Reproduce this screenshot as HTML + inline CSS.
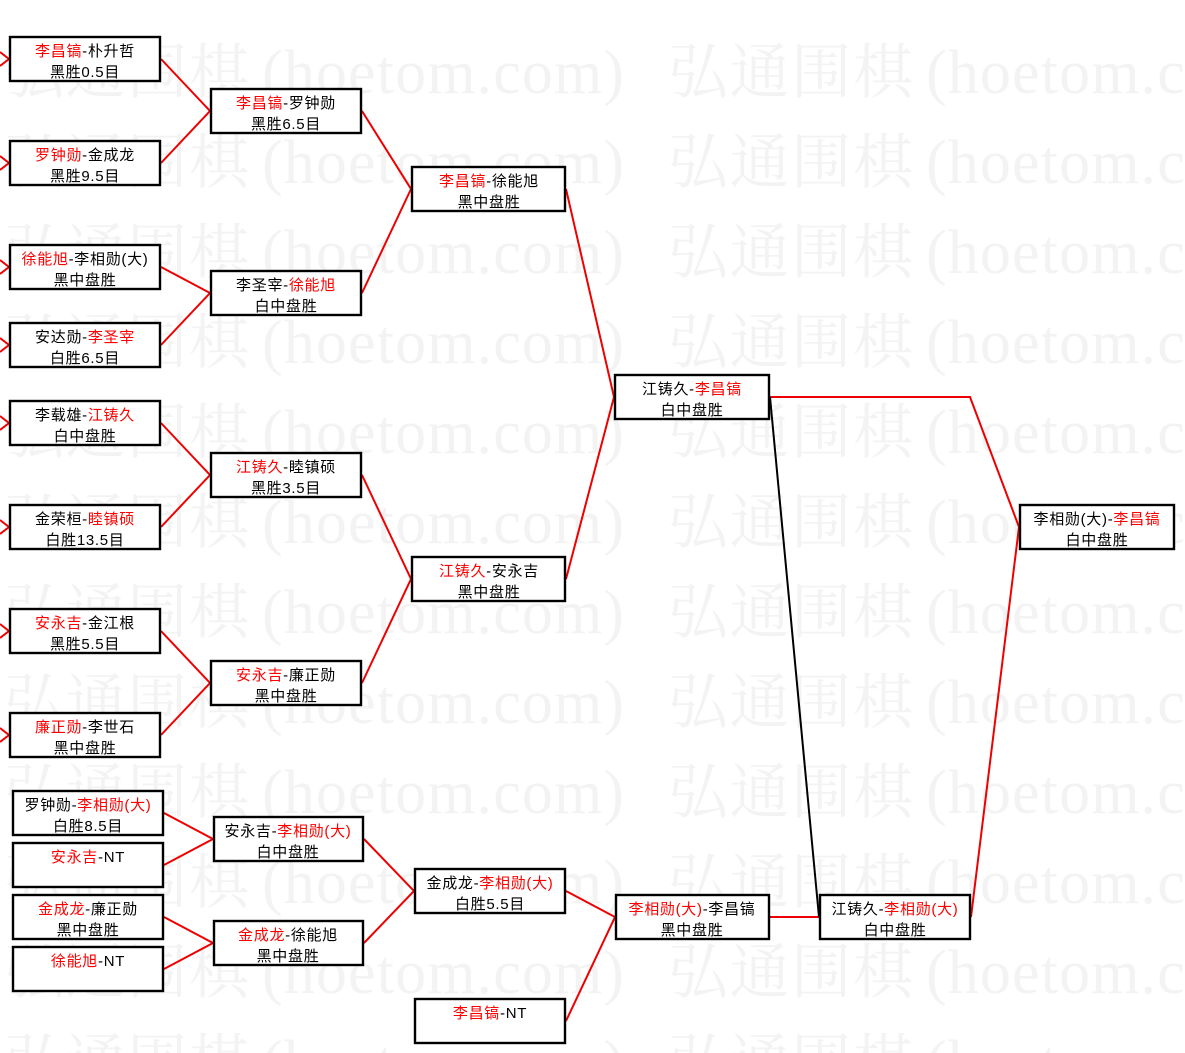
<!DOCTYPE html>
<html>
<head>
<meta charset="utf-8">
<style>
  html,body{margin:0;padding:0;background:#fff;}
  body{width:1185px;height:1053px;overflow:hidden;}
  svg{display:block;}
  .wm{font-family:"Noto Serif CJK SC","Liberation Serif",serif;font-size:60px;fill:#f3f3f3;}
  .wl{font-family:"Liberation Serif","Noto Serif CJK SC",serif;font-size:62px;fill:#f3f3f3;}
  .t{font-family:"Liberation Sans","Noto Sans CJK SC",sans-serif;font-size:15px;fill:#000;letter-spacing:0.7px;}
  .r{fill:#ff0000;}
  .bx{fill:#fff;stroke:#000;stroke-width:2.4;}
  .ln{stroke:#ee0000;stroke-width:2;fill:none;}
</style>
</head>
<body>
<svg width="1185" height="1053" viewBox="0 0 1185 1053" xmlns="http://www.w3.org/2000/svg">
  <rect x="0" y="0" width="1185" height="1053" fill="#fff"/>
  <g id="wm">
    <g>
      <text class="wm" x="4" y="93" textLength="245" lengthAdjust="spacing">弘通围棋</text><text class="wl" x="262" y="93" textLength="362" lengthAdjust="spacing">(hoetom.com)</text>
      <text class="wm" x="668" y="93" textLength="245" lengthAdjust="spacing">弘通围棋</text><text class="wl" x="926" y="93" textLength="362" lengthAdjust="spacing">(hoetom.com)</text>
    </g>
    <g transform="translate(0,90)">
      <text class="wm" x="4" y="93" textLength="245" lengthAdjust="spacing">弘通围棋</text><text class="wl" x="262" y="93" textLength="362" lengthAdjust="spacing">(hoetom.com)</text>
      <text class="wm" x="668" y="93" textLength="245" lengthAdjust="spacing">弘通围棋</text><text class="wl" x="926" y="93" textLength="362" lengthAdjust="spacing">(hoetom.com)</text>
    </g>
    <g transform="translate(0,180)">
      <text class="wm" x="4" y="93" textLength="245" lengthAdjust="spacing">弘通围棋</text><text class="wl" x="262" y="93" textLength="362" lengthAdjust="spacing">(hoetom.com)</text>
      <text class="wm" x="668" y="93" textLength="245" lengthAdjust="spacing">弘通围棋</text><text class="wl" x="926" y="93" textLength="362" lengthAdjust="spacing">(hoetom.com)</text>
    </g>
    <g transform="translate(0,270)">
      <text class="wm" x="4" y="93" textLength="245" lengthAdjust="spacing">弘通围棋</text><text class="wl" x="262" y="93" textLength="362" lengthAdjust="spacing">(hoetom.com)</text>
      <text class="wm" x="668" y="93" textLength="245" lengthAdjust="spacing">弘通围棋</text><text class="wl" x="926" y="93" textLength="362" lengthAdjust="spacing">(hoetom.com)</text>
    </g>
    <g transform="translate(0,360)">
      <text class="wm" x="4" y="93" textLength="245" lengthAdjust="spacing">弘通围棋</text><text class="wl" x="262" y="93" textLength="362" lengthAdjust="spacing">(hoetom.com)</text>
      <text class="wm" x="668" y="93" textLength="245" lengthAdjust="spacing">弘通围棋</text><text class="wl" x="926" y="93" textLength="362" lengthAdjust="spacing">(hoetom.com)</text>
    </g>
    <g transform="translate(0,450)">
      <text class="wm" x="4" y="93" textLength="245" lengthAdjust="spacing">弘通围棋</text><text class="wl" x="262" y="93" textLength="362" lengthAdjust="spacing">(hoetom.com)</text>
      <text class="wm" x="668" y="93" textLength="245" lengthAdjust="spacing">弘通围棋</text><text class="wl" x="926" y="93" textLength="362" lengthAdjust="spacing">(hoetom.com)</text>
    </g>
    <g transform="translate(0,540)">
      <text class="wm" x="4" y="93" textLength="245" lengthAdjust="spacing">弘通围棋</text><text class="wl" x="262" y="93" textLength="362" lengthAdjust="spacing">(hoetom.com)</text>
      <text class="wm" x="668" y="93" textLength="245" lengthAdjust="spacing">弘通围棋</text><text class="wl" x="926" y="93" textLength="362" lengthAdjust="spacing">(hoetom.com)</text>
    </g>
    <g transform="translate(0,630)">
      <text class="wm" x="4" y="93" textLength="245" lengthAdjust="spacing">弘通围棋</text><text class="wl" x="262" y="93" textLength="362" lengthAdjust="spacing">(hoetom.com)</text>
      <text class="wm" x="668" y="93" textLength="245" lengthAdjust="spacing">弘通围棋</text><text class="wl" x="926" y="93" textLength="362" lengthAdjust="spacing">(hoetom.com)</text>
    </g>
    <g transform="translate(0,720)">
      <text class="wm" x="4" y="93" textLength="245" lengthAdjust="spacing">弘通围棋</text><text class="wl" x="262" y="93" textLength="362" lengthAdjust="spacing">(hoetom.com)</text>
      <text class="wm" x="668" y="93" textLength="245" lengthAdjust="spacing">弘通围棋</text><text class="wl" x="926" y="93" textLength="362" lengthAdjust="spacing">(hoetom.com)</text>
    </g>
    <g transform="translate(0,810)">
      <text class="wm" x="4" y="93" textLength="245" lengthAdjust="spacing">弘通围棋</text><text class="wl" x="262" y="93" textLength="362" lengthAdjust="spacing">(hoetom.com)</text>
      <text class="wm" x="668" y="93" textLength="245" lengthAdjust="spacing">弘通围棋</text><text class="wl" x="926" y="93" textLength="362" lengthAdjust="spacing">(hoetom.com)</text>
    </g>
    <g transform="translate(0,900)">
      <text class="wm" x="4" y="93" textLength="245" lengthAdjust="spacing">弘通围棋</text><text class="wl" x="262" y="93" textLength="362" lengthAdjust="spacing">(hoetom.com)</text>
      <text class="wm" x="668" y="93" textLength="245" lengthAdjust="spacing">弘通围棋</text><text class="wl" x="926" y="93" textLength="362" lengthAdjust="spacing">(hoetom.com)</text>
    </g>
    <g transform="translate(0,990)">
      <text class="wm" x="4" y="93" textLength="245" lengthAdjust="spacing">弘通围棋</text><text class="wl" x="262" y="93" textLength="362" lengthAdjust="spacing">(hoetom.com)</text>
      <text class="wm" x="668" y="93" textLength="245" lengthAdjust="spacing">弘通围棋</text><text class="wl" x="926" y="93" textLength="362" lengthAdjust="spacing">(hoetom.com)</text>
    </g>
  </g>

  <g class="ln">
    <polyline points="0,52 9,59 0,66"/>
    <polyline points="0,156 9,163 0,170"/>
    <polyline points="0,260 9,267 0,274"/>
    <polyline points="0,338 9,345 0,352"/>
    <polyline points="0,416 9,423 0,430"/>
    <polyline points="0,520 9,527 0,534"/>
    <polyline points="0,624 9,631 0,638"/>
    <polyline points="0,728 9,735 0,742"/>
    <polyline points="161,59 210,111 161,163"/>
    <polyline points="161,267 210,293 161,345"/>
    <polyline points="161,423 210,475 161,527"/>
    <polyline points="161,631 210,683 161,735"/>
    <polyline points="362,111 411,189 362,293"/>
    <polyline points="362,475 411,579 362,683"/>
    <polyline points="566,189 614,397 566,579"/>
    <polyline points="770,397 970,397 1019,527 971,917"/>
    <polyline points="164,813 213,839 164,865"/>
    <polyline points="164,917 213,943 164,969"/>
    <polyline points="364,839 414,891 364,943"/>
    <polyline points="566,891 615,917 566,1021"/>
    <line x1="770" y1="917" x2="819" y2="917"/>
  </g>
  <line x1="770" y1="397" x2="819" y2="917" stroke="#000" stroke-width="2"/>

  <g>
    <rect class="bx" x="10" y="37" width="150" height="44"/>
    <rect class="bx" x="10" y="141" width="150" height="44"/>
    <rect class="bx" x="10" y="245" width="150" height="44"/>
    <rect class="bx" x="10" y="323" width="150" height="44"/>
    <rect class="bx" x="10" y="401" width="150" height="44"/>
    <rect class="bx" x="10" y="505" width="150" height="44"/>
    <rect class="bx" x="10" y="609" width="150" height="44"/>
    <rect class="bx" x="10" y="713" width="150" height="44"/>

    <rect class="bx" x="211" y="89" width="150" height="44"/>
    <rect class="bx" x="211" y="271" width="150" height="44"/>
    <rect class="bx" x="211" y="453" width="150" height="44"/>
    <rect class="bx" x="211" y="661" width="150" height="44"/>

    <rect class="bx" x="412" y="167" width="153" height="44"/>
    <rect class="bx" x="412" y="557" width="153" height="44"/>

    <rect class="bx" x="615" y="375" width="154" height="44"/>
    <rect class="bx" x="1020" y="505" width="154" height="44"/>

    <rect class="bx" x="13" y="791" width="150" height="44"/>
    <rect class="bx" x="13" y="843" width="150" height="44"/>
    <rect class="bx" x="13" y="895" width="150" height="44"/>
    <rect class="bx" x="13" y="947" width="150" height="44"/>

    <rect class="bx" x="214" y="817" width="149" height="44"/>
    <rect class="bx" x="214" y="921" width="149" height="44"/>

    <rect class="bx" x="415" y="869" width="150" height="44"/>
    <rect class="bx" x="415" y="999" width="150" height="44"/>

    <rect class="bx" x="616" y="895" width="153" height="44"/>
    <rect class="bx" x="820" y="895" width="150" height="44"/>
  </g>

  <g class="t" text-anchor="middle">
    <text x="85" y="56"><tspan class="r">李昌镐</tspan>-朴升哲</text>
    <text x="85" y="77">黑胜0.5目</text>
    <text x="85" y="160"><tspan class="r">罗钟勋</tspan>-金成龙</text>
    <text x="85" y="181">黑胜9.5目</text>
    <text x="85" y="264"><tspan class="r">徐能旭</tspan>-李相勋(大)</text>
    <text x="85" y="285">黑中盘胜</text>
    <text x="85" y="342">安达勋-<tspan class="r">李圣宰</tspan></text>
    <text x="85" y="363">白胜6.5目</text>
    <text x="85" y="420">李载雄-<tspan class="r">江铸久</tspan></text>
    <text x="85" y="441">白中盘胜</text>
    <text x="85" y="524">金荣桓-<tspan class="r">睦镇硕</tspan></text>
    <text x="85" y="545">白胜13.5目</text>
    <text x="85" y="628"><tspan class="r">安永吉</tspan>-金江根</text>
    <text x="85" y="649">黑胜5.5目</text>
    <text x="85" y="732"><tspan class="r">廉正勋</tspan>-李世石</text>
    <text x="85" y="753">黑中盘胜</text>

    <text x="286" y="108"><tspan class="r">李昌镐</tspan>-罗钟勋</text>
    <text x="286" y="129">黑胜6.5目</text>
    <text x="286" y="290">李圣宰-<tspan class="r">徐能旭</tspan></text>
    <text x="286" y="311">白中盘胜</text>
    <text x="286" y="472"><tspan class="r">江铸久</tspan>-睦镇硕</text>
    <text x="286" y="493">黑胜3.5目</text>
    <text x="286" y="680"><tspan class="r">安永吉</tspan>-廉正勋</text>
    <text x="286" y="701">黑中盘胜</text>

    <text x="489" y="186"><tspan class="r">李昌镐</tspan>-徐能旭</text>
    <text x="489" y="207">黑中盘胜</text>
    <text x="489" y="576"><tspan class="r">江铸久</tspan>-安永吉</text>
    <text x="489" y="597">黑中盘胜</text>

    <text x="692" y="394">江铸久-<tspan class="r">李昌镐</tspan></text>
    <text x="692" y="415">白中盘胜</text>

    <text x="1097" y="524">李相勋(大)-<tspan class="r">李昌镐</tspan></text>
    <text x="1097" y="545">白中盘胜</text>

    <text x="88" y="810">罗钟勋-<tspan class="r">李相勋(大)</tspan></text>
    <text x="88" y="831">白胜8.5目</text>
    <text x="88" y="862"><tspan class="r">安永吉</tspan>-NT</text>
    <text x="88" y="914"><tspan class="r">金成龙</tspan>-廉正勋</text>
    <text x="88" y="935">黑中盘胜</text>
    <text x="88" y="966"><tspan class="r">徐能旭</tspan>-NT</text>

    <text x="288" y="836">安永吉-<tspan class="r">李相勋(大)</tspan></text>
    <text x="288" y="857">白中盘胜</text>
    <text x="288" y="940"><tspan class="r">金成龙</tspan>-徐能旭</text>
    <text x="288" y="961">黑中盘胜</text>

    <text x="490" y="888">金成龙-<tspan class="r">李相勋(大)</tspan></text>
    <text x="490" y="909">白胜5.5目</text>
    <text x="490" y="1018"><tspan class="r">李昌镐</tspan>-NT</text>

    <text x="692" y="914"><tspan class="r">李相勋(大)</tspan>-李昌镐</text>
    <text x="692" y="935">黑中盘胜</text>

    <text x="895" y="914">江铸久-<tspan class="r">李相勋(大)</tspan></text>
    <text x="895" y="935">白中盘胜</text>
  </g>
</svg>
</body>
</html>
